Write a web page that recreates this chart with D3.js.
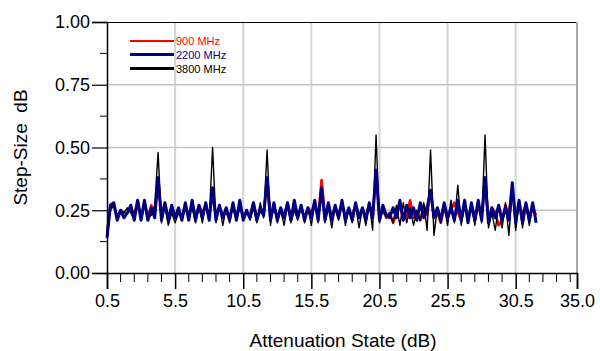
<!DOCTYPE html>
<html>
<head>
<meta charset="utf-8">
<script src="https://cdn.jsdelivr.net/npm/d3@7"></script>
<style>
  html, body { margin: 0; padding: 0; background: #fff; }
  svg { display: block; font-family: "Liberation Sans", Arial, sans-serif; }
</style>
</head>
<body>
<svg id="chart" width="600" height="351"></svg>
<script>
// Attenuation states, 0.25 dB apart
const states = d3.range(0, 127).map(i => 0.5 + i * 0.25);

// Measured step size (dB) per state
const step900 = [
  0.16, 0.26, 0.27, 0.22, 0.25, 0.24, 0.24, 0.26, 0.23, 0.29, 0.22, 0.28, 0.22, 0.27, 0.24, 0.37,
  0.23, 0.28, 0.22, 0.26, 0.23, 0.24, 0.22, 0.27, 0.22, 0.28, 0.22, 0.27, 0.24, 0.27, 0.22, 0.33,
  0.23, 0.26, 0.23, 0.24, 0.22, 0.27, 0.22, 0.27, 0.23, 0.24, 0.23, 0.28, 0.22, 0.25, 0.23, 0.37,
  0.22, 0.26, 0.22, 0.25, 0.22, 0.28, 0.22, 0.27, 0.23, 0.26, 0.22, 0.26, 0.24, 0.28, 0.22, 0.37,
  0.23, 0.27, 0.22, 0.26, 0.22, 0.28, 0.22, 0.25, 0.23, 0.27, 0.22, 0.25, 0.23, 0.27, 0.22, 0.40,
  0.23, 0.25, 0.22, 0.24, 0.20, 0.24, 0.27, 0.21, 0.23, 0.29, 0.22, 0.24, 0.21, 0.27, 0.23, 0.33,
  0.22, 0.24, 0.20, 0.26, 0.22, 0.25, 0.28, 0.24, 0.21, 0.27, 0.22, 0.26, 0.21, 0.27, 0.22, 0.37,
  0.21, 0.26, 0.24, 0.19, 0.21, 0.27, 0.23, 0.34, 0.22, 0.26, 0.24, 0.27, 0.22, 0.26, 0.23
];
const step2200 = [
  0.14, 0.27, 0.28, 0.21, 0.25, 0.22, 0.24, 0.27, 0.21, 0.29, 0.21, 0.29, 0.21, 0.26, 0.22, 0.38,
  0.21, 0.28, 0.21, 0.27, 0.22, 0.26, 0.21, 0.28, 0.21, 0.29, 0.21, 0.27, 0.22, 0.28, 0.21, 0.34,
  0.21, 0.27, 0.22, 0.26, 0.21, 0.28, 0.21, 0.29, 0.21, 0.25, 0.22, 0.28, 0.21, 0.26, 0.23, 0.38,
  0.21, 0.28, 0.21, 0.26, 0.22, 0.28, 0.21, 0.29, 0.22, 0.27, 0.21, 0.26, 0.22, 0.29, 0.21, 0.34,
  0.21, 0.28, 0.21, 0.27, 0.22, 0.29, 0.21, 0.26, 0.21, 0.28, 0.22, 0.26, 0.21, 0.28, 0.22, 0.41,
  0.21, 0.27, 0.23, 0.22, 0.26, 0.22, 0.29, 0.21, 0.27, 0.22, 0.26, 0.21, 0.28, 0.22, 0.26, 0.33,
  0.22, 0.26, 0.21, 0.28, 0.22, 0.26, 0.21, 0.29, 0.21, 0.29, 0.20, 0.28, 0.21, 0.29, 0.21, 0.38,
  0.20, 0.26, 0.22, 0.27, 0.21, 0.26, 0.21, 0.36, 0.20, 0.29, 0.20, 0.28, 0.21, 0.28, 0.20
];
const step3800 = [
  0.16, 0.25, 0.27, 0.23, 0.25, 0.24, 0.26, 0.24, 0.21, 0.28, 0.23, 0.27, 0.22, 0.23, 0.27, 0.48,
  0.20, 0.27, 0.19, 0.24, 0.20, 0.24, 0.22, 0.25, 0.23, 0.26, 0.20, 0.27, 0.20, 0.28, 0.21, 0.50,
  0.20, 0.27, 0.19, 0.26, 0.20, 0.27, 0.21, 0.26, 0.22, 0.24, 0.21, 0.26, 0.20, 0.28, 0.22, 0.49,
  0.19, 0.28, 0.20, 0.25, 0.19, 0.27, 0.20, 0.25, 0.21, 0.27, 0.20, 0.26, 0.19, 0.28, 0.20, 0.33,
  0.20, 0.26, 0.18, 0.27, 0.21, 0.28, 0.19, 0.26, 0.20, 0.27, 0.18, 0.26, 0.19, 0.28, 0.17, 0.55,
  0.20, 0.25, 0.22, 0.24, 0.20, 0.27, 0.19, 0.28, 0.20, 0.26, 0.19, 0.25, 0.21, 0.28, 0.17, 0.49,
  0.15, 0.26, 0.20, 0.27, 0.19, 0.29, 0.20, 0.35, 0.19, 0.27, 0.20, 0.28, 0.19, 0.29, 0.20, 0.55,
  0.18, 0.24, 0.17, 0.27, 0.18, 0.28, 0.15, 0.33, 0.17, 0.29, 0.18, 0.27, 0.19, 0.27, 0.21
];

const seriesNames = ['900 MHz', '2200 MHz', '3800 MHz'];
const seriesColors = ['#ff0000', '#000080', '#000000'];

const xTicks = [0.5, 5.5, 10.5, 15.5, 20.5, 25.5, 30.5, 35.0];
const xMinorTicks = d3.range(0, 34).map(i => 1.5 + i).filter(v => !xTicks.includes(v) && v < 35);
const yTicks = [0, 0.25, 0.5, 0.75, 1.0];
const yMinorTicks = [0.125, 0.375, 0.625, 0.875];

const margin = { left: 107, right: 23, top: 22, bottom: 78 };
const width = 600, height = 351;
const plotW = width - margin.left - margin.right;
const plotH = height - margin.top - margin.bottom;

const svg = d3.select('#chart');
const g = svg.append('g').attr('transform', `translate(${margin.left},${margin.top})`);

const x = d3.scaleLinear().domain([0.5, 35.0]).range([0, plotW]);
const y = d3.scaleLinear().domain([0, 1]).range([plotH, 0]);

// grid
g.selectAll('.vgrid')
  .data(xTicks.slice(1, -1))
  .enter().append('line')
  .attr('x1', d => x(d)).attr('x2', d => x(d))
  .attr('y1', 0).attr('y2', plotH)
  .attr('stroke', '#d4d4d4').attr('stroke-width', 2);

g.selectAll('.hgrid')
  .data(yTicks.slice(1, -1))
  .enter().append('line')
  .attr('x1', 0).attr('x2', plotW)
  .attr('y1', d => y(d)).attr('y2', d => y(d))
  .attr('stroke', '#c4c4c4').attr('stroke-width', 1.5);

// frame: top dark, right grey
g.append('line').attr('x1', 0).attr('x2', plotW).attr('y1', 0.5).attr('y2', 0.5)
  .attr('stroke', '#000').attr('stroke-width', 1);
g.append('line').attr('x1', plotW).attr('x2', plotW).attr('y1', 0).attr('y2', plotH)
  .attr('stroke', '#a8a8a8').attr('stroke-width', 2);

// data lines
const line = d3.line()
  .x((d, i) => x(states[i]))
  .y(d => y(d));

const drawOrder = [
  { values: step900, color: seriesColors[0], w: 2.6 },
  { values: step3800, color: seriesColors[2], w: 1.4 },
  { values: step2200, color: seriesColors[1], w: 3 }
];
drawOrder.forEach(s => {
  g.append('path')
    .datum(s.values)
    .attr('fill', 'none')
    .attr('stroke', s.color)
    .attr('stroke-width', s.w)
    .attr('stroke-linejoin', 'round')
    .attr('d', line);
});

// axes
const xAxis = d3.axisBottom(x)
  .tickValues(xTicks)
  .tickFormat(d3.format('.1f'))
  .tickSize(16)
  .tickPadding(5);
const xg = g.append('g').attr('transform', `translate(0,${plotH})`).call(xAxis);
xg.select('.domain').attr('stroke', '#000').attr('stroke-width', 1.5);
xg.selectAll('.tick line').attr('stroke', '#000').attr('stroke-width', 1.5);
xg.selectAll('text').attr('font-size', 18).attr('fill', '#000');

g.selectAll('.xminor')
  .data(xMinorTicks)
  .enter().append('line')
  .attr('x1', d => x(d)).attr('x2', d => x(d))
  .attr('y1', plotH).attr('y2', plotH + 9)
  .attr('stroke', '#000').attr('stroke-width', 1);

const yAxis = d3.axisLeft(y)
  .tickValues(yTicks)
  .tickFormat(d3.format('.2f'))
  .tickSize(15)
  .tickPadding(2);
const yg = g.append('g').call(yAxis);
yg.select('.domain').attr('stroke', '#000').attr('stroke-width', 1.5);
yg.selectAll('.tick line').attr('stroke', '#000').attr('stroke-width', 1.2);
yg.selectAll('text').attr('font-size', 18).attr('fill', '#000');

g.selectAll('.yminor')
  .data(yMinorTicks)
  .enter().append('line')
  .attr('x1', -7).attr('x2', 0)
  .attr('y1', d => y(d)).attr('y2', d => y(d))
  .attr('stroke', '#000').attr('stroke-width', 1);

// axis titles
svg.append('text')
  .attr('x', 343)
  .attr('y', 347)
  .attr('text-anchor', 'middle')
  .attr('font-size', 19)
  .text('Attenuation State (dB)');

svg.append('text')
  .attr('transform', `translate(27,${margin.top + plotH / 2}) rotate(-90)`)
  .attr('text-anchor', 'middle')
  .attr('font-size', 19)
  .attr('xml:space', 'preserve')
  .style('white-space', 'pre')
  .text('Step-Size  dB');

// legend
const legend = svg.append('g').attr('transform', 'translate(130,41)');
const legendY = [0, 13.5, 27.5];
const legendW = [2, 3, 3];
seriesNames.forEach((name, i) => {
  legend.append('line')
    .attr('x1', 0).attr('x2', 44)
    .attr('y1', legendY[i]).attr('y2', legendY[i])
    .attr('stroke', seriesColors[i]).attr('stroke-width', legendW[i]);
  legend.append('text')
    .attr('x', 46).attr('y', legendY[i] + 4)
    .attr('font-size', 11)
    .attr('fill', seriesColors[i])
    .text(name);
});
</script>
</body>
</html>
